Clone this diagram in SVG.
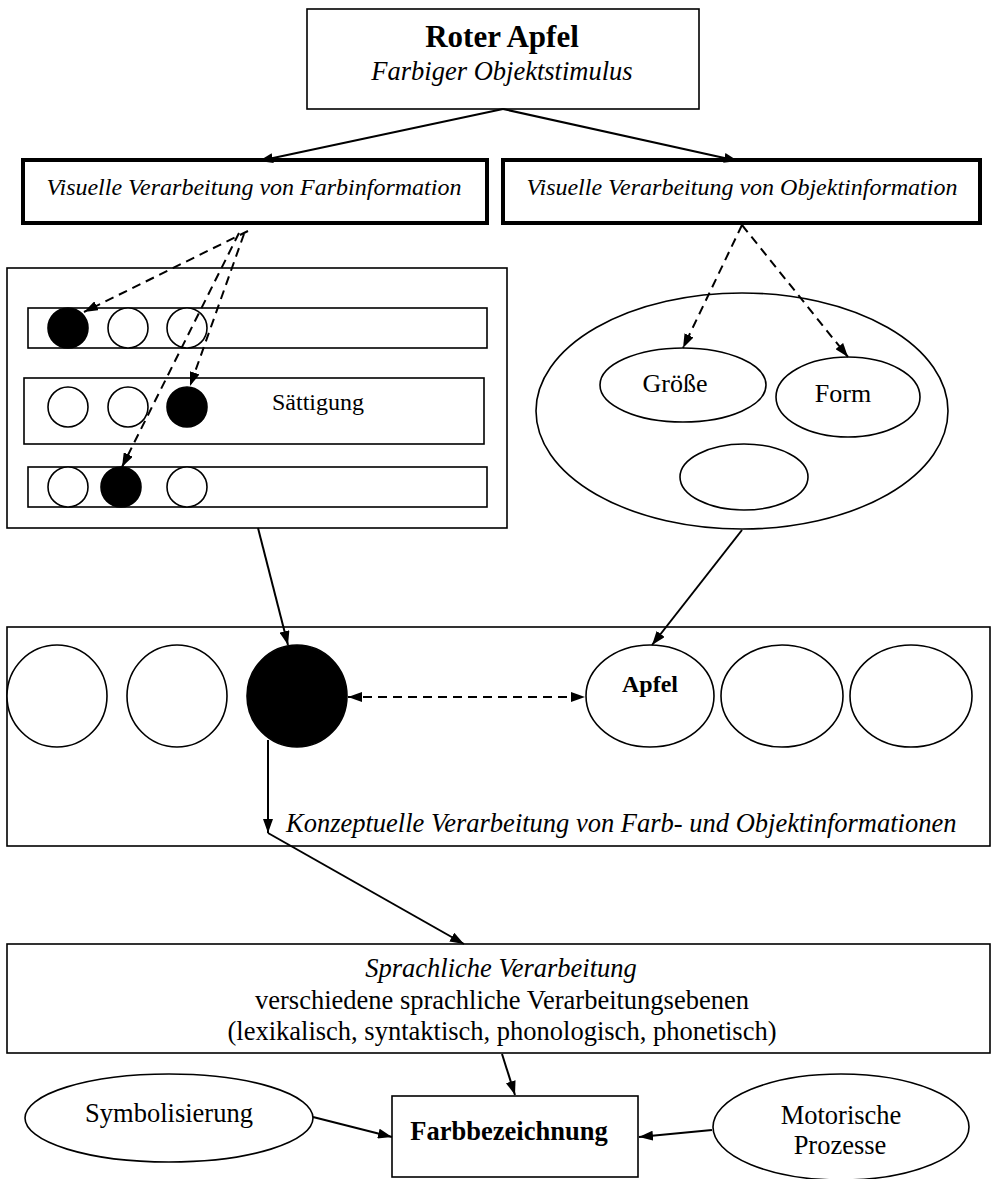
<svg xmlns="http://www.w3.org/2000/svg" width="991" height="1179" viewBox="0 0 991 1179">
<style>
text{font-family:"Liberation Serif","Times New Roman",serif;fill:#000}
.box{fill:#fff;stroke:#000;stroke-width:1.6}
.thick{fill:#fff;stroke:#000;stroke-width:4}
.ell{fill:#fff;stroke:#000;stroke-width:1.6}
.blk{fill:#000;stroke:#000;stroke-width:1.6}
.ln{fill:none;stroke:#000;stroke-width:2}
.dash{fill:none;stroke:#000;stroke-width:2;stroke-dasharray:9,6}
.it{font-style:italic}
.b{font-weight:bold}
</style>
<defs>
<marker id="ah" viewBox="0 0 14 10" refX="14" refY="5" markerWidth="14" markerHeight="10" orient="auto-start-reverse" markerUnits="userSpaceOnUse"><path d="M0,0 L14,5 L0,10 z" fill="#000"/></marker>
</defs>
<g id="stimulus">
<rect class="box" x="307" y="9" width="392" height="100"/>
<text x="502" y="47" font-size="31" class="b" text-anchor="middle">Roter Apfel</text>
<text x="502" y="80" font-size="26.5" class="it" text-anchor="middle">Farbiger Objektstimulus</text>
</g>
<g id="farb-visuell">
<rect class="thick" x="23" y="160" width="464" height="63"/>
<text x="254" y="195" font-size="24" class="it" text-anchor="middle">Visuelle Verarbeitung von Farbinformation</text>
</g>
<g id="objekt-visuell">
<rect class="thick" x="503" y="160" width="477" height="63"/>
<text x="742" y="195" font-size="24" class="it" text-anchor="middle">Visuelle Verarbeitung von Objektinformation</text>
</g>
<g id="farb-dimensionen">
<rect class="box" x="7" y="268" width="500" height="260"/>
<rect class="box" x="28" y="308" width="459" height="40"/>
<circle class="blk" cx="68" cy="328" r="20"/>
<circle class="ell" cx="128" cy="328" r="20"/>
<circle class="ell" cx="187" cy="328" r="20"/>
<rect class="box" x="24" y="378" width="460" height="66"/>
<circle class="ell" cx="68" cy="407" r="20"/>
<circle class="ell" cx="128" cy="407" r="20"/>
<circle class="blk" cx="187" cy="407" r="20"/>
<text x="272" y="410" font-size="24">Sättigung</text>
<rect class="box" x="28" y="467" width="459" height="40"/>
<circle class="ell" cx="68" cy="487" r="20"/>
<circle class="blk" cx="121" cy="487" r="20"/>
<circle class="ell" cx="187" cy="487" r="20"/>
</g>
<g id="objekt-merkmale">
<ellipse class="ell" cx="742" cy="411" rx="206" ry="118"/>
<ellipse class="ell" cx="683" cy="385" rx="83" ry="37"/>
<text x="675" y="392" font-size="26" text-anchor="middle">Größe</text>
<ellipse class="ell" cx="848" cy="397" rx="72" ry="40"/>
<text x="843" y="402" font-size="26" text-anchor="middle">Form</text>
<ellipse class="ell" cx="744" cy="477" rx="64" ry="33"/>
</g>
<g id="konzeptuell">
<rect class="box" x="7" y="627" width="983" height="219"/>
<ellipse class="ell" cx="57" cy="696" rx="50" ry="51"/>
<ellipse class="ell" cx="177" cy="696" rx="50" ry="51"/>
<ellipse class="blk" cx="297" cy="696" rx="50" ry="51"/>
<ellipse class="ell" cx="650" cy="696" rx="64" ry="51"/>
<text x="650" y="692" font-size="24" class="b" text-anchor="middle">Apfel</text>
<ellipse class="ell" cx="782" cy="696" rx="61" ry="51"/>
<ellipse class="ell" cx="911" cy="696" rx="61" ry="51"/>
<text x="286" y="832" font-size="26.5" class="it">Konzeptuelle Verarbeitung von Farb- und Objektinformationen</text>
</g>
<g id="sprachlich">
<rect class="box" x="7" y="944" width="983" height="109"/>
<text x="501" y="977" font-size="26.5" class="it" text-anchor="middle">Sprachliche Verarbeitung</text>
<text x="502" y="1009" font-size="26.5" text-anchor="middle">verschiedene sprachliche Verarbeitungsebenen</text>
<text x="502" y="1040" font-size="26.5" text-anchor="middle">(lexikalisch, syntaktisch, phonologisch, phonetisch)</text>
</g>
<g id="symbolisierung">
<ellipse class="ell" cx="169" cy="1118" rx="144" ry="44"/>
<text x="169" y="1122" font-size="26.5" text-anchor="middle">Symbolisierung</text>
</g>
<g id="farbbezeichnung">
<rect class="box" x="392" y="1096" width="246" height="81"/>
<text x="509" y="1140" font-size="26.5" class="b" text-anchor="middle">Farbbezeichnung</text>
</g>
<g id="motorik">
<ellipse class="ell" cx="841" cy="1127" rx="128" ry="53"/>
<text x="841" y="1124" font-size="26.5" text-anchor="middle">Motorische</text>
<text x="840" y="1154" font-size="26.5" text-anchor="middle">Prozesse</text>
</g>
<g id="connectors">
<line class="ln" x1="503" y1="109" x2="259" y2="161" marker-end="url(#ah)"/>
<line class="ln" x1="503" y1="109" x2="738" y2="161" marker-end="url(#ah)"/>
<line class="dash" x1="248" y1="231" x2="84" y2="312" marker-end="url(#ah)"/>
<line class="dash" x1="244" y1="234" x2="190" y2="386" marker-end="url(#ah)"/>
<line class="dash" x1="239" y1="233" x2="122" y2="467" marker-end="url(#ah)"/>
<line class="dash" x1="742" y1="225" x2="683" y2="348" marker-end="url(#ah)"/>
<line class="dash" x1="742" y1="225" x2="848" y2="357" marker-end="url(#ah)"/>
<line class="ln" x1="258" y1="528" x2="288" y2="645" marker-end="url(#ah)"/>
<line class="ln" x1="742" y1="530" x2="652" y2="645" marker-end="url(#ah)"/>
<line class="dash" x1="348" y1="697" x2="585" y2="697" marker-start="url(#ah)" marker-end="url(#ah)"/>
<line class="ln" x1="268" y1="740" x2="268" y2="833" marker-end="url(#ah)"/>
<line class="ln" x1="268" y1="833" x2="464" y2="944" marker-end="url(#ah)"/>
<line class="ln" x1="502" y1="1054" x2="515" y2="1095" marker-end="url(#ah)"/>
<line class="ln" x1="313" y1="1117" x2="392" y2="1137" marker-end="url(#ah)"/>
<line class="ln" x1="712" y1="1130" x2="639" y2="1137" marker-end="url(#ah)"/>
</g>
</svg>
